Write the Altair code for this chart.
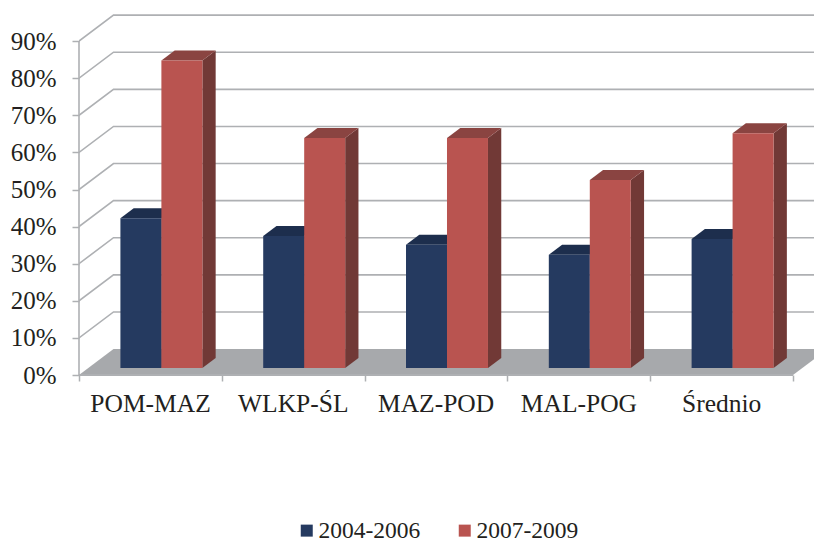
import altair as alt
import pandas as pd

categories = ["POM-MAZ", "WLKP-ŚL", "MAZ-POD", "MAL-POG", "Średnio"]
series = ["2004-2006", "2007-2009"]
values_a = [40.4, 35.6, 33.2, 30.5, 34.8]
values_b = [82.9, 62.0, 62.0, 50.7, 63.3]
y_ticks = [0, 10, 20, 30, 40, 50, 60, 70, 80, 90]
x_ticks = [0, 1, 2, 3, 4, 5]

# oblique projection, in data units
DEPTH_X = 0.2416   # category units per full depth
DEPTH_Y = 7.0      # percentage points per full depth
BAR_START = 0.269  # fraction of depth where the bars' front face sits
BAR_DEPTH = 0.385  # fraction of depth taken by a bar
BAR_W = 0.287
BAR_GAP = 0.225

NAVY, NAVY_TOP, NAVY_SIDE = "#253a60", "#1d2e4d", "#1b2b48"
RED, RED_TOP, RED_SIDE = "#b95450", "#8a4441", "#713936"
GRID = "#aeb0b3"
FLOOR = "#a7a9ac"
FONT = "Liberation Serif"
TEXT = "#231f20"

PX_PER_CAT = 142.8
PX_PER_PCT = 3.71
PLOT_W = 735
PLOT_H = 367

xs = alt.Scale(domain=[0, PLOT_W / PX_PER_CAT], nice=False, zero=False)
ys = alt.Scale(domain=[0, PLOT_H / PX_PER_PCT], nice=False, zero=False)

label_expr = "[" + ",".join(f"'{c}'" for c in categories) + ",''][datum.value]"

x_axis = alt.Axis(
    values=x_ticks,
    labelExpr=label_expr,
    labelOffset=71,
    labelFont=FONT,
    labelFontSize=25.5,
    labelColor=TEXT,
    labelPadding=10,
    labelFlush=False,
    labelOverlap=False,
    labelAngle=0,
    tickColor=GRID,
    tickWidth=1.5,
    tickSize=6,
    domain=False,
    grid=False,
)
y_axis = alt.Axis(
    values=y_ticks,
    labelExpr="datum.value + '%'",
    labelFont=FONT,
    labelFontSize=25,
    labelColor=TEXT,
    labelPadding=16,
    labelOverlap=False,
    tickColor=GRID,
    tickWidth=1.5,
    tickSize=7,
    domain=False,
    grid=False,
)


def X():
    return alt.X("x:Q", scale=xs, axis=x_axis, title=None)


def Y():
    return alt.Y("y:Q", scale=ys, axis=y_axis, title=None, stack=None)


# floor
floor = pd.DataFrame({
    "x": [0, DEPTH_X, 5, 5 + DEPTH_X],
    "y": [0, DEPTH_Y, DEPTH_Y, DEPTH_Y],
    "y2": [0, 0, 0, DEPTH_Y],
})
floor_layer = alt.Chart(floor).mark_area(color=FLOOR, clip=True, orient="vertical").encode(
    x=X(), y=Y(), y2="y2:Q"
)

# walls: grid lines go from the front edge back, then along the back wall
grid_rows = []
for t in y_ticks[1:]:
    grid_rows.append({"x": 0, "y": t, "t": t})
    grid_rows.append({"x": DEPTH_X, "y": t + DEPTH_Y, "t": t})
    grid_rows.append({"x": 5 + DEPTH_X, "y": t + DEPTH_Y, "t": t})
grid_layer = alt.Chart(pd.DataFrame(grid_rows)).mark_line(
    color=GRID, strokeWidth=1.6, clip=True
).encode(x=X(), y=Y(), detail="t:N")

axis_y_line = alt.Chart(pd.DataFrame({"x": [0], "y": [0], "y2": [y_ticks[-1]]})).mark_rule(
    color=GRID, strokeWidth=1.6
).encode(x=X(), y=Y(), y2="y2:Q")
axis_x_line = alt.Chart(pd.DataFrame({"x": [0], "x2": [x_ticks[-1]], "y": [0]})).mark_rule(
    color=GRID, strokeWidth=2
).encode(x=X(), x2="x2:Q", y=Y())

# bars
base = BAR_START * DEPTH_Y
ddx = BAR_DEPTH * DEPTH_X
ddy = BAR_DEPTH * DEPTH_Y
front_rows, top_rows, side_rows = [], [], []
for s_i, (name, vals) in enumerate(zip(series, [values_a, values_b])):
    for c_i, v in enumerate(vals):
        x0 = c_i + BAR_START * DEPTH_X + BAR_GAP + s_i * BAR_W
        x1 = x0 + BAR_W
        top = base + v
        bar = f"{s_i}-{c_i}"
        front_rows.append({"x": x0, "x2": x1, "y": top, "y2": base, "series": name})
        for px, ya, yb in [
            (x0, top, top),
            (x0 + ddx, top + ddy, top),
            (x1, top + ddy, top),
            (x1 + ddx, top + ddy, top + ddy),
        ]:
            top_rows.append({"x": px, "y": ya, "y2": yb, "bar": bar, "s": s_i})
        for px, ya, yb in [(x1, top, base), (x1 + ddx, top + ddy, base + ddy)]:
            side_rows.append({"x": px, "y": ya, "y2": yb, "bar": bar, "s": s_i})
top_df = pd.DataFrame(top_rows)
side_df = pd.DataFrame(side_rows)


def faces(df, s_i, color):
    return alt.Chart(df[df["s"] == s_i]).mark_area(color=color, orient="vertical").encode(
        x=X(), y=Y(), y2="y2:Q", detail="bar:N"
    )


front_layer = alt.Chart(pd.DataFrame(front_rows)).mark_rect().encode(
    x=X(),
    x2="x2:Q",
    y=Y(),
    y2="y2:Q",
    color=alt.Color(
        "series:N",
        scale=alt.Scale(domain=series, range=[NAVY, RED]),
        legend=alt.Legend(
            orient="none",
            legendX=212,
            legendY=510.5,
            direction="horizontal",
            title=None,
            symbolType="square",
            symbolSize=144,
            symbolStrokeWidth=0,
            symbolOffset=4,
            labelFont=FONT,
            labelFontSize=23.5,
            labelColor=TEXT,
            labelOffset=0,
            columnPadding=28,
            padding=0,
        ),
    ),
)

chart = alt.layer(
    floor_layer,
    grid_layer,
    axis_y_line,
    axis_x_line,
    faces(side_df, 0, NAVY_SIDE),
    faces(top_df, 0, NAVY_TOP),
    faces(side_df, 1, RED_SIDE),
    faces(top_df, 1, RED_TOP),
    front_layer,
).properties(
    width=PLOT_W,
    height=PLOT_H,
    padding={"left": 71, "top": 0, "right": 0, "bottom": 164},
    autosize=alt.AutoSizeParams(type="none"),
    background="white",
).configure_view(stroke=None)

chart.save("out.html", embed_options={"renderer": "svg", "actions": False})
